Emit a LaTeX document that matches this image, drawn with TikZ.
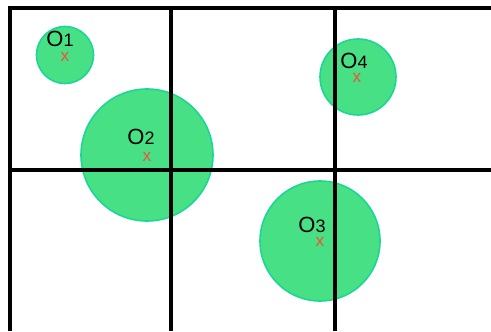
\documentclass[tikz,border=0pt]{standalone}
\usepackage{fontspec}
\setmainfont{Liberation Sans}
\usepackage{xcolor}
\usetikzlibrary{positioning}
\definecolor{objgreen}{RGB}{72,224,132}
\definecolor{objedge}{RGB}{28,214,150}
\definecolor{crossred}{RGB}{238,84,58}

\newcommand{\objname}[1]{{\fontsize{16.5}{18}\selectfont O}{\fontsize{13.5}{15}\selectfont #1}}

\begin{document}
\begin{tikzpicture}[
  x=0.75pt, y=-0.75pt,
  obj/.style={circle, draw=objedge, line width=1.2pt, fill=objgreen, inner sep=0pt},
  lbl/.style={anchor=base, inner sep=0pt},
  cross/.style={text=crossred, inner sep=0pt, font=\fontsize{13}{13}\selectfont},
  grid line/.style={line width=2.6pt, black}
]
\useasboundingbox (0,0) rectangle (491,331);

% objects
\node[obj, minimum size=42.75pt] (o1) at (65,55) {};
\node[obj, minimum size=99pt] (o2) at (147,155) {};
\node[obj, minimum size=90pt] (o3) at (320,241) {};
\node[obj, minimum size=57pt] (o4) at (358,77) {};

% grid
\draw[grid line] (10,331) -- (10,8) -- (491,8);
\draw[grid line] (10,170) -- (491,170);
\draw[grid line] (171,8) -- (171,331);
\draw[grid line] (335,8) -- (335,331);

% labels and centres
\node[lbl] (o1lbl) at (60,47) {\objname{1}};
\node[lbl] (o2lbl) at (141,145) {\objname{2}};
\node[lbl] (o3lbl) at (312,232) {\objname{3}};
\node[lbl] (o4lbl) at (354,69) {\objname{4}};

\node[cross] (o1x) at (65,57) {x};
\node[cross] (o2x) at (147,157) {x};
\node[cross] (o3x) at (320,242) {x};
\node[cross] (o4x) at (357,78) {x};
\end{tikzpicture}
\end{document}
